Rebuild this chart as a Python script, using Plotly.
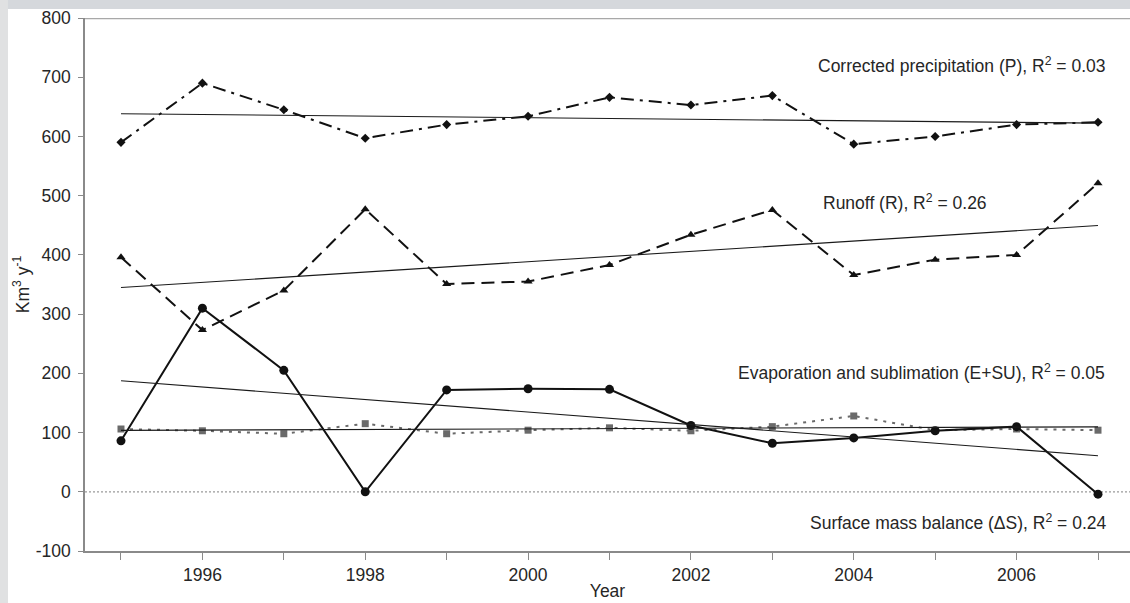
import numpy as np
import plotly.graph_objects as go

# Annual water-balance components (km3 per year)
years = [1995, 1996, 1997, 1998, 1999, 2000, 2001, 2002, 2003, 2004, 2005, 2006, 2007]
precip = [590, 690, 645, 597, 620, 634, 666, 653, 669, 587, 600, 620, 624]
runoff = [396, 273, 340, 477, 351, 355, 383, 434, 476, 366, 392, 400, 521]
evap = [106, 103, 98, 115, 98, 104, 108, 103, 110, 128, 104, 106, 104]
mass_balance = [86, 310, 205, 0, 172, 174, 173, 112, 82, 91, 103, 110, -4]

y_ticks = [-100, 0, 100, 200, 300, 400, 500, 600, 700, 800]
y_tick_labels = [str(v) for v in y_ticks]
x_tick_labels = ["" if y % 2 else str(y) for y in years]

FONT = "Liberation Sans, Arial, sans-serif"
TXT = "#262626"
FS = 17.5

fig = go.Figure()


def add_series(values, dash, width, color, symbol, msize):
    fig.add_trace(go.Scatter(
        x=years, y=values, mode="lines+markers",
        line=dict(color=color, width=width, dash=dash),
        marker=dict(symbol=symbol, size=msize, color=color),
        hoverinfo="skip", showlegend=False,
    ))


def add_trend(values):
    slope, icpt = np.polyfit(years, values, 1)
    xs = [years[0], years[-1]]
    fig.add_trace(go.Scatter(
        x=xs, y=[slope * x + icpt for x in xs], mode="lines",
        line=dict(color="#1a1a1a", width=1.1),
        hoverinfo="skip", showlegend=False,
    ))


# zero reference line
fig.add_shape(type="line", xref="paper", x0=0, x1=1, yref="y", y0=0, y1=0,
              line=dict(color="#9a9a9a", width=1.2, dash="2px,2px"), layer="below")

add_series(evap, "3px,6px", 2, "#6a6a6a", "square", 7)
add_series(precip, "13px,6px,3px,6px", 2, "#111111", "diamond", 7)
add_series(runoff, "13px,7px", 2, "#111111", "triangle-up", 8)
add_series(mass_balance, "solid", 2, "#111111", "circle", 9)

for vals in (precip, runoff, evap, mass_balance):
    add_trend(vals)

# top frame line
fig.add_shape(type="line", xref="paper", x0=0, x1=1, yref="y", y0=800, y1=800,
              line=dict(color="#a8a8a8", width=2.5))

# page surround (top and left strips)
fig.add_shape(type="rect", xref="paper", yref="paper",
              x0=-0.09, x1=1.01, y0=1.0169, y1=1.05,
              fillcolor="#d5d8dc", line=dict(width=0), layer="below")
fig.add_shape(type="rect", xref="paper", yref="paper",
              x0=-0.09, x1=-0.0737, y0=-0.11, y1=1.05,
              fillcolor="#e0e1e2", line=dict(width=0), layer="below")

labels = [
    dict(x=2007.11, y=721, text="Corrected precipitation (P), R<sup>2</sup> = 0.03", xanchor="right"),
    dict(x=2004.63, y=490, text="Runoff (R), R<sup>2</sup> = 0.26", xanchor="center"),
    dict(x=2007.11, y=202, text="Evaporation and sublimation (E+SU), R<sup>2</sup> = 0.05", xanchor="right"),
    dict(x=2007.12, y=-51, text="Surface mass balance (\u0394S), R<sup>2</sup> = 0.24", xanchor="right"),
]
for a in labels:
    fig.add_annotation(xref="x", yref="y", showarrow=False, yanchor="middle",
                       font=dict(family=FONT, size=FS, color=TXT), **a)

# y-axis title
fig.add_annotation(xref="paper", yref="paper", x=-0.0615, y=0.5, xanchor="center", yanchor="middle",
                   text="Km<sup>3</sup> y<sup>-1</sup>", textangle=-90, showarrow=False,
                   font=dict(family=FONT, size=FS, color=TXT))

fig.update_layout(
    width=1130, height=603,
    margin=dict(l=85, r=0, t=18, b=52),
    paper_bgcolor="white", plot_bgcolor="white",
    font=dict(family=FONT, size=FS, color=TXT),
    xaxis=dict(
        range=[1994.558, 2007.393], tickmode="array", tickvals=years, ticktext=x_tick_labels,
        ticks="outside", ticklen=7, tickcolor="#8a8a8a", tickwidth=1,
        showline=True, linecolor="#8a8a8a", linewidth=1.5, showgrid=False, zeroline=False,
        tickfont=dict(family=FONT, size=FS, color=TXT),
        title=dict(text="Year", font=dict(family=FONT, size=FS, color=TXT), standoff=1),
    ),
    yaxis=dict(
        range=[-100, 800], tickmode="array", tickvals=y_ticks, ticktext=y_tick_labels,
        ticks="outside", ticklen=5, tickcolor="#8a8a8a", tickwidth=1,
        showline=True, linecolor="#8a8a8a", linewidth=1.5, showgrid=False, zeroline=False,
        ticklabelstandoff=4,
        tickfont=dict(family=FONT, size=FS, color=TXT),
    ),
)

fig.write_html("out.html")
